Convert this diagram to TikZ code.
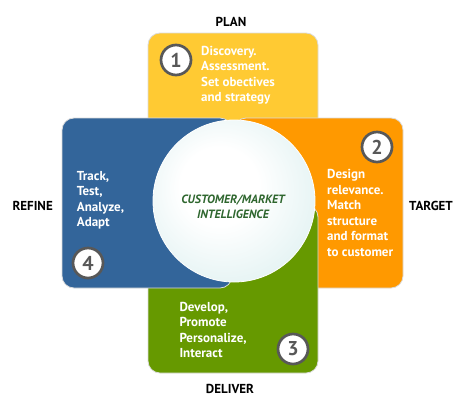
\documentclass[tikz,border=0pt]{standalone}
\usepackage{fontspec}
\setmainfont{PT Sans}
\definecolor{cyellow}{HTML}{FFCA33}
\definecolor{corange}{HTML}{FF9900}
\definecolor{cblue}{HTML}{33659A}
\definecolor{cgreen}{HTML}{669900}
\definecolor{numgray}{HTML}{585858}
\definecolor{ctext}{HTML}{2E662E}
\definecolor{sphereedge}{HTML}{9ECED2}
\definecolor{spheremid}{HTML}{E4F3F3}
\definecolor{sphereouter}{HTML}{C6E4E6}
\pgfdeclareradialshading{sphere}{\pgfpoint{-6bp}{6bp}}{color(0bp)=(white); color(12bp)=(white); color(30bp)=(spheremid); color(42bp)=(sphereouter); color(50bp)=(sphereedge)}
\begin{document}
\begin{tikzpicture}[x=1pt,y=-1pt]
\tikzset{
  panel/.style={rounded corners=12pt, draw=black!14, line width=0.8pt},
  num/.style={circle, draw=numgray, line width=2.7pt, fill=white, minimum size=30pt, inner sep=0pt, font=\fontsize{20}{20}\selectfont\bfseries, text=numgray},
  body/.style={anchor=north west, align=left, text=white, font=\fontsize{13}{15.5}\selectfont\bfseries, inner sep=0pt},
  stage/.style={anchor=base, font=\fontsize{13}{13}\selectfont\bfseries, text=black, inner sep=0pt},
  core/.style={align=center, text=ctext, font=\fontsize{12}{14.5}\selectfont\bfseries\itshape, inner sep=0pt}
}
\useasboundingbox (0,0) rectangle (470,413);
\fill[white] (0,0) rectangle (470,413);
% panels
\path[panel, fill=cyellow] (148,33) rectangle (318,215);
\path[panel, fill=corange] (234,118) rectangle (403,288);
\path[panel, fill=cgreen] (148,205) rectangle (318,373);
\path[panel, fill=cblue] (62,118) rectangle (232,288);
% central sphere
\shade[shading=sphere] (234,201) circle (81);
\draw[white, line width=0.8pt] (234,201) circle (81);
\node[core] (core) at (233,207) {CUSTOMER/MARKET\\INTELLIGENCE};
% numbers
\node[num] (n1) at (176,60) {1};
\node[num] (n2) at (377,147) {2};
\node[num] (n3) at (293,349) {3};
\node[num] (n4) at (88,263) {4};
% body texts
\node[body] (t1) at (201,46) {Discovery.\\Assessment.\\Set obectives\\and strategy};
\node[body] (t2) at (327,169.3) {Design\\relevance.\\Match\\structure\\and format\\to customer};
\node[body] (t3) at (179.3,301.7) {Develop,\\Promote\\Personalize,\\Interact};
\node[body] (t4) at (76.7,171) {Track,\\Test,\\Analyze,\\Adapt};
% stage labels
\node[stage] (plan) at (231,26.7) {PLAN};
\node[stage] (target) at (431,210) {TARGET};
\node[stage] (refine) at (32.7,210) {REFINE};
\node[stage] (deliver) at (230,393.3) {DELIVER};
\end{tikzpicture}
\end{document}
